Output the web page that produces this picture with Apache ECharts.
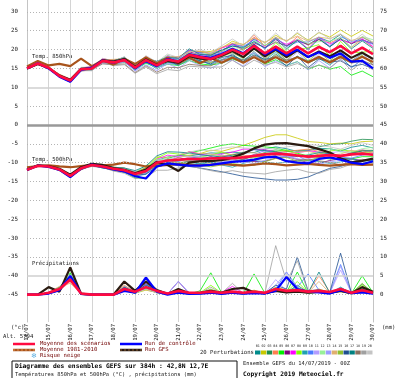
<!DOCTYPE html>
<html><head><meta charset="utf-8">
<script src="https://cdn.jsdelivr.net/npm/echarts@6/dist/echarts.min.js"></script>
<style>html,body{margin:0;padding:0;background:#fff}#c{width:400px;height:378px}</style>
</head><body><div id="c"></div>
<script>
// ---------- DATA ----------
const days = ['14/07','15/07','16/07','17/07','18/07','19/07','20/07','21/07','22/07','23/07','24/07','25/07','26/07','27/07','28/07','29/07','30/07'];
const leftTicks = [30,25,20,15,10,5,0,-5,-10,-15,-20,-25,-30,-35,-40,-45];
const rightTicks = [75,70,65,60,55,50,45,40,35,30,25,20,15,10,5,0];
const pertNames = ['01','02','03','04','05','06','07','08','09','10','11','12','13','14','15','16','17','18','19','20'];
const pertColors = ['#008b8b','#c8c800','#1f8f4f','#ff7f50','#00ee00','#800080','#ff00ff','#80ff00','#20a0b0','#4a7aff','#b49cff','#98f098','#9c9cff','#e0b070','#8fbf30','#1e4f8f','#008080','#8b7060','#a0a0a0','#c4c4c4'];

// 850 hPa (°C), 12-hourly from 14/07 00Z
const mean850 = [15.0,16.3,15.2,13.0,11.8,14.8,15.0,17.0,16.6,17.2,15.2,17.2,15.8,17.3,16.8,18.6,18.0,17.5,18.6,20.0,18.8,21.0,19.0,20.8,19.0,20.8,19.0,20.7,19.3,21.0,19.0,20.5,18.8];
const ctrl850 = [15.0,16.4,15.0,12.8,11.5,14.6,15.2,17.1,16.5,17.3,15.0,17.0,15.6,17.5,16.9,18.8,18.2,17.8,18.8,20.2,19.0,21.2,18.7,20.2,18.5,20.0,18.0,19.3,17.8,19.0,16.8,17.0,15.0];
const gfs850 = [15.0,16.2,15.1,13.1,12.0,14.9,15.1,17.2,16.8,17.5,15.4,17.4,15.9,17.0,16.5,18.3,17.6,17.4,18.4,19.6,18.0,20.3,18.2,20.0,18.0,19.8,18.0,19.5,18.2,19.8,17.8,19.2,17.5];
const clim850 = [15.5,17.0,15.8,16.2,15.6,17.6,15.6,17.2,16.0,17.6,16.2,17.9,16.4,17.8,16.3,17.9,16.4,17.8,16.5,17.9,16.5,18.0,16.5,18.0,16.6,18.0,16.6,18.1,16.6,18.1,16.7,18.1,16.7];
const pert850 = [
[15.0,16.5,15.3,13.0,11.6,14.9,15.3,17.4,16.9,17.7,15.6,17.8,16.6,18.3,17.8,19.8,19.3,19.0,19.8,21.0,20.3,22.8,21.0,23.0,21.0,22.6,21.2,23.2,22.1,24.0,21.5,23.3,21.8],
[15.1,16.3,15.4,13.3,11.9,14.8,15.2,17.5,17.2,17.6,16.0,17.7,16.8,18.1,18.0,19.6,19.5,19.5,20.4,22.2,21.3,23.2,21.8,23.8,22.2,24.3,22.5,24.5,23.3,25.2,23.5,25.1,23.6],
[14.9,16.4,15.2,13.2,12.1,14.6,15.0,16.7,16.6,17.4,14.8,17.0,15.3,16.5,16.2,17.6,16.8,16.7,17.1,18.8,16.8,19.5,16.5,18.8,16.8,18.0,16.5,17.7,16.7,18.5,17.0,18.9,17.6],
[15.0,16.2,15.4,13.1,11.7,15.0,15.1,17.3,17.1,17.8,15.5,18.0,16.4,18.2,18.0,19.5,19.4,19.1,20.5,21.5,21.0,23.8,21.0,23.2,20.8,23.4,21.2,22.6,21.8,23.0,20.6,22.7,20.6],
[15.1,16.3,15.1,12.8,11.5,14.7,14.8,16.6,16.3,16.6,14.7,16.4,15.2,16.1,15.8,17.1,16.2,15.9,16.4,17.5,16.6,18.0,16.2,17.3,15.8,16.8,14.8,15.9,14.8,15.5,13.2,14.3,12.8],
[15.0,16.6,15.3,13.4,12.0,15.1,15.5,17.2,17.2,17.5,15.9,17.6,16.7,17.8,17.9,19.4,18.6,18.7,19.5,21.6,20.0,21.8,20.5,22.0,21.0,22.4,21.4,22.7,20.8,22.8,21.6,22.6,21.6],
[15.2,16.4,15.2,12.9,11.9,15.2,15.2,17.6,17.0,17.4,15.7,18.1,16.2,18.3,17.5,19.9,19.0,18.0,20.4,21.4,19.8,23.2,20.6,22.6,21.4,22.7,20.2,23.3,21.5,22.5,21.8,22.9,20.8],
[14.8,16.3,15.0,13.3,12.0,14.5,14.9,17.1,16.4,17.7,15.2,17.5,16.0,17.0,17.2,19.2,17.5,18.4,18.9,19.6,20.0,21.5,18.7,21.8,19.4,20.0,20.5,21.3,18.3,22.2,19.2,19.3,19.6],
[15.0,16.1,15.2,12.7,11.4,14.6,14.6,16.8,16.1,16.9,14.5,16.7,14.9,16.7,15.8,17.4,17.1,16.0,17.4,18.2,17.3,19.0,17.2,19.3,16.8,18.2,17.0,17.7,15.9,18.2,15.2,17.3,15.2],
[15.1,16.4,15.5,13.0,12.0,14.9,15.3,17.4,16.8,17.9,15.7,17.5,16.8,18.0,17.3,20.0,19.1,18.3,19.2,21.4,20.8,22.6,20.1,23.3,20.8,22.0,22.0,23.3,20.9,23.4,22.2,22.5,21.4],
[14.9,16.2,15.0,12.9,11.8,14.5,14.8,16.5,16.4,16.8,14.4,16.9,15.2,16.2,16.3,17.7,16.6,16.8,17.0,19.0,18.2,19.2,17.8,20.0,17.0,19.3,16.6,18.8,18.1,18.4,16.8,19.1,16.0],
[15.0,16.5,15.6,13.2,11.7,15.2,15.2,17.1,16.9,17.8,15.4,17.3,16.3,18.5,17.4,18.9,18.8,18.9,19.6,20.4,20.4,22.2,21.2,22.1,19.8,22.8,21.6,22.1,22.3,23.2,20.6,23.5,22.6],
[15.1,16.1,15.1,12.6,11.3,14.4,14.7,16.4,15.9,16.7,14.3,16.0,14.4,16.3,15.0,17.1,15.8,15.0,16.6,17.2,15.6,18.0,15.5,17.0,15.8,16.8,14.6,17.1,15.1,17.5,15.2,17.3,15.8],
[15.0,16.3,15.3,13.5,12.2,14.9,15.0,17.3,17.4,17.6,15.8,18.2,16.5,17.8,18.1,19.5,19.6,18.7,20.6,21.7,21.4,23.0,22.0,23.2,22.4,23.6,22.2,23.3,22.9,24.0,22.4,23.3,22.0],
[14.9,16.4,15.1,13.0,11.9,14.7,15.1,16.9,16.7,17.0,15.4,16.8,16.1,16.8,17.0,17.9,17.8,16.5,18.1,19.2,17.6,20.4,17.5,19.7,17.2,19.9,17.0,19.3,17.0,19.4,16.5,18.5,16.0],
[15.0,16.2,15.3,12.8,11.9,15.0,14.9,16.7,16.8,17.1,15.5,16.6,15.9,16.9,16.0,18.3,17.0,16.2,17.9,18.5,16.8,18.6,17.4,18.0,15.6,18.3,15.2,17.5,16.7,17.0,15.5,16.1,14.9],
[15.1,16.5,15.2,13.1,11.6,14.7,15.4,17.2,17.0,18.0,15.5,17.7,16.9,17.9,17.7,20.2,18.7,18.5,19.9,20.9,20.6,22.1,20.4,22.8,20.2,22.4,20.0,22.9,20.7,22.9,20.2,22.3,20.3],
[14.8,16.0,15.1,12.8,11.4,14.3,14.7,16.2,16.0,16.2,13.9,15.7,14.0,15.3,15.2,16.1,15.8,15.7,17.2,17.8,17.2,18.4,17.0,18.4,17.2,18.0,16.8,17.7,16.9,17.8,16.4,17.0,16.0],
[15.0,16.2,14.9,12.8,12.0,14.4,14.4,16.6,15.7,16.0,13.7,15.4,13.6,14.7,14.4,15.6,15.4,15.3,15.4,17.2,15.4,17.2,15.9,16.6,15.4,16.3,15.0,15.9,15.1,17.4,14.5,16.7,14.6],
[15.2,16.6,15.4,13.1,12.1,15.3,15.4,17.7,16.8,18.1,15.8,18.4,16.7,18.8,17.9,19.4,20.0,19.1,21.0,22.8,21.0,24.2,21.6,24.4,22.0,24.6,22.2,24.7,22.8,24.2,21.8,24.1,21.8]
];

// 500 hPa (°C)
const mean500 = [-11.9,-10.8,-11.0,-11.8,-13.5,-11.5,-10.6,-11.0,-11.6,-12.0,-13.0,-12.2,-10.0,-9.4,-9.2,-9.0,-9.0,-8.9,-8.8,-8.8,-8.6,-8.2,-7.8,-7.6,-7.8,-8.1,-8.4,-8.2,-8.0,-8.2,-7.8,-7.6,-7.9];
const ctrl500 = [-11.9,-10.8,-11.1,-11.9,-13.8,-11.6,-10.5,-11.1,-11.8,-12.3,-13.6,-14.2,-11.0,-10.2,-10.5,-10.8,-10.8,-10.6,-10.2,-9.8,-9.6,-9.2,-8.6,-8.4,-9.6,-10.0,-10.2,-9.0,-8.6,-9.2,-10.0,-10.4,-9.6];
const gfs500 = [-11.9,-10.7,-10.9,-11.6,-13.2,-11.2,-10.3,-10.6,-11.4,-11.9,-12.8,-11.8,-9.8,-10.6,-12.2,-10.0,-9.6,-9.6,-9.3,-8.6,-7.6,-6.2,-5.2,-4.9,-4.8,-5.2,-5.6,-6.4,-7.3,-8.8,-9.9,-9.5,-8.9];
const clim500 = [-11.2,-10.9,-10.7,-11.0,-11.2,-10.9,-10.6,-10.7,-10.5,-10.0,-10.4,-11.0,-10.8,-10.6,-10.4,-10.6,-10.7,-10.5,-10.3,-10.6,-10.8,-10.5,-10.2,-10.4,-10.7,-10.5,-10.3,-10.6,-10.8,-10.6,-10.4,-10.6,-10.5];
const pert500 = [
[-11.9,-10.7,-11.0,-12.0,-13.4,-11.3,-10.6,-10.7,-11.4,-11.6,-12.5,-11.4,-9.4,-8.5,-8.1,-8.2,-7.8,-7.4,-7.5,-7.2,-7.4,-7.3,-6.4,-5.8,-6.3,-7.0,-6.8,-6.2,-6.3,-6.9,-5.9,-5.4,-6.1],
[-11.8,-10.8,-10.8,-11.7,-13.2,-11.4,-10.4,-11.0,-11.2,-11.4,-12.7,-11.2,-8.5,-8.6,-8.0,-7.1,-7.6,-6.7,-7.0,-6.2,-5.4,-4.4,-3.3,-2.6,-2.6,-3.5,-4.4,-4.6,-5.0,-4.8,-5.0,-4.4,-4.3],
[-12.0,-10.7,-11.2,-11.8,-13.3,-11.6,-10.5,-11.2,-11.6,-12.3,-12.9,-12.7,-10.8,-9.8,-10.2,-9.6,-10.2,-9.7,-10.3,-9.8,-9.1,-8.2,-7.3,-6.6,-7.0,-6.8,-6.6,-5.8,-5.2,-5.0,-4.3,-3.8,-3.9],
[-11.9,-10.9,-10.9,-11.6,-13.7,-11.5,-10.4,-10.9,-11.9,-12.0,-12.6,-12.0,-10.4,-10.2,-9.5,-8.5,-8.8,-9.5,-8.4,-7.8,-8.0,-8.4,-8.6,-7.3,-7.0,-6.7,-6.4,-7.0,-7.5,-8.5,-7.6,-6.8,-7.5],
[-11.8,-10.6,-11.0,-11.9,-13.8,-11.7,-10.7,-11.4,-11.8,-12.5,-14.0,-14.2,-10.5,-8.9,-8.0,-7.4,-6.8,-6.1,-5.4,-5.0,-5.4,-5.6,-5.8,-6.1,-6.8,-7.5,-8.2,-8.6,-9.0,-8.8,-9.0,-8.4,-8.4],
[-11.9,-10.8,-11.1,-11.7,-13.3,-11.2,-10.8,-10.8,-11.5,-12.1,-13.2,-11.8,-9.8,-9.6,-8.6,-9.4,-9.1,-8.4,-9.4,-9.0,-9.6,-9.7,-9.6,-8.8,-8.4,-9.1,-10.0,-10.2,-9.4,-9.0,-9.0,-9.4,-9.3],
[-11.7,-10.9,-10.9,-11.9,-13.1,-11.4,-10.3,-11.1,-11.3,-11.9,-12.4,-12.5,-9.1,-8.0,-8.4,-7.1,-7.7,-8.2,-7.7,-7.2,-6.4,-6.4,-6.6,-7.0,-7.6,-7.3,-6.9,-7.1,-7.6,-8.4,-7.3,-6.6,-7.2],
[-12.0,-10.7,-10.9,-11.5,-13.6,-11.3,-10.2,-10.9,-11.7,-11.7,-13.3,-11.6,-8.8,-7.4,-7.7,-8.1,-8.6,-7.9,-7.2,-8.0,-8.4,-8.7,-8.0,-7.0,-6.6,-7.7,-8.7,-7.7,-6.9,-6.6,-6.9,-7.3,-7.1],
[-11.9,-11.0,-10.9,-12.1,-13.4,-11.7,-10.9,-11.0,-12.0,-12.2,-13.5,-13.1,-10.3,-10.0,-10.4,-9.8,-10.4,-9.9,-10.6,-11.2,-10.2,-9.4,-9.8,-10.2,-9.8,-9.5,-9.4,-9.7,-10.2,-9.8,-9.0,-9.6,-9.4],
[-11.8,-10.7,-11.1,-11.8,-13.6,-11.4,-10.5,-11.3,-11.3,-11.5,-12.8,-12.6,-10.2,-9.1,-9.7,-8.8,-8.4,-9.1,-8.0,-8.5,-9.2,-7.8,-6.8,-7.8,-8.6,-8.1,-9.6,-8.7,-7.6,-8.5,-8.8,-8.0,-7.7],
[-12.0,-10.8,-10.8,-11.6,-13.2,-11.5,-10.7,-10.8,-11.8,-12.4,-13.0,-11.9,-9.5,-9.2,-8.3,-8.5,-8.2,-7.6,-8.1,-8.6,-7.6,-6.6,-7.0,-7.4,-8.2,-9.1,-9.0,-8.1,-7.4,-7.0,-7.3,-7.8,-7.6],
[-11.9,-10.6,-11.1,-11.7,-13.1,-11.3,-10.6,-10.6,-11.3,-11.8,-12.5,-10.7,-9.2,-9.0,-9.2,-9.4,-8.7,-8.0,-8.3,-9.1,-9.5,-8.6,-7.5,-6.7,-7.4,-8.3,-7.8,-7.0,-6.2,-7.2,-7.2,-6.3,-5.9],
[-11.8,-10.9,-11.0,-12.0,-13.9,-11.6,-10.8,-11.3,-11.7,-12.4,-13.8,-12.7,-11.0,-10.8,-10.1,-10.6,-11.0,-10.4,-9.8,-9.4,-9.8,-10.2,-9.4,-8.5,-8.2,-8.9,-9.8,-10.4,-9.8,-9.4,-9.8,-10.1,-9.8],
[-11.9,-10.7,-10.8,-11.8,-13.4,-11.6,-10.4,-10.9,-11.6,-11.8,-12.6,-11.5,-9.6,-9.4,-8.7,-8.0,-7.5,-7.7,-8.2,-7.8,-7.2,-7.4,-7.7,-8.1,-7.6,-7.2,-7.0,-7.6,-8.0,-7.7,-6.7,-7.2,-8.1],
[-12.0,-10.8,-11.1,-11.7,-13.7,-11.4,-10.6,-10.9,-11.4,-12.1,-12.7,-12.4,-10.6,-10.4,-9.9,-10.2,-10.7,-11.1,-10.6,-10.2,-10.6,-10.7,-9.7,-8.9,-8.6,-9.6,-9.4,-8.6,-7.7,-8.4,-7.4,-6.7,-6.7],
[-11.9,-10.9,-11.0,-11.9,-13.5,-11.8,-10.8,-11.4,-11.9,-12.6,-13.4,-13.0,-11.2,-10.4,-10.8,-11.0,-11.4,-11.9,-12.4,-13.0,-13.6,-14.0,-14.3,-14.6,-14.6,-14.4,-13.8,-12.6,-11.5,-11.0,-10.0,-10.2,-9.9],
[-11.8,-10.7,-11.0,-11.6,-13.3,-11.4,-10.4,-10.7,-11.2,-11.4,-12.1,-10.9,-8.2,-7.1,-7.2,-7.4,-7.9,-8.2,-8.5,-8.0,-7.3,-6.5,-6.8,-7.1,-7.8,-8.4,-8.0,-7.3,-7.6,-8.4,-7.5,-6.9,-6.8],
[-11.9,-10.8,-10.9,-11.9,-13.8,-11.9,-10.7,-11.2,-12.1,-12.3,-13.6,-12.4,-10.9,-9.9,-9.4,-9.7,-9.3,-8.7,-9.2,-9.7,-9.1,-8.2,-8.4,-8.8,-9.6,-9.3,-9.1,-9.5,-9.9,-10.6,-9.8,-9.1,-9.8],
[-11.8,-11.0,-11.1,-12.1,-14.0,-11.7,-11.0,-11.3,-12.2,-12.8,-14.2,-13.8,-12.0,-12.0,-11.4,-10.8,-11.5,-12.1,-12.6,-12.1,-12.6,-12.8,-13.0,-12.4,-12.0,-11.7,-12.5,-12.8,-11.8,-11.4,-10.4,-10.6,-10.3],
[-12.0,-10.6,-10.9,-11.8,-13.2,-11.3,-10.5,-11.0,-11.4,-11.6,-12.9,-11.7,-9.7,-8.6,-7.9,-7.2,-6.6,-6.9,-6.2,-5.8,-6.1,-6.2,-6.2,-6.4,-5.8,-5.5,-5.2,-5.4,-5.8,-6.4,-5.4,-4.7,-5.4]
];

// Precipitation (mm)
const meanPr = [0,0,0.5,1.5,4.0,0.3,0,0,0,1.5,0.8,2.0,1.0,0.3,1.0,0.5,0.5,0.8,0.5,0.8,0.5,0.8,0.5,1.5,1.0,1.2,0.8,1.0,0.7,1.5,0.5,1.2,0.5];
const ctrlPr = [0,0,0.3,1.2,5.0,0.2,0,0,0,1.0,0.5,4.5,0.8,0,0.5,0.2,0.3,0.5,0.2,0.5,0.3,0.4,0.3,1.0,4.7,1.5,0.8,0.6,0.3,1.2,0.4,0.6,0.3];
const gfsPr = [0,0,2.0,0.8,7.2,0.2,0,0,0,3.5,1.0,3.5,1.2,0.2,1.5,0.4,0.5,1.0,0.5,1.5,1.8,0.6,0.4,1.0,0.6,0.8,0.5,0.8,0.5,1.0,0.4,2.0,0.8];
const pertPr = [
[0,0,0.5,1.8,5.5,0.3,0,0,0,1.5,1.0,2.0,0.8,0.2,0.8,0.3,0.4,0.6,0.3,0.5,0.3,1.0,0.4,1.2,0.8,1.6,0.5,0.8,0.4,1.8,0.6,1.5,0.4],
[0,0,0.3,1.2,4.5,0.4,0,0,0,1.0,0.4,1.2,0.6,0.3,0.6,0.2,0.3,0.5,0.2,0.4,0.2,0.6,0.2,2.0,1.2,0.8,0.4,1.5,0.6,0.8,0.2,0.6,0.3],
[0,0,0.6,2.0,5.0,0.5,0,0,0,2.0,0.8,2.5,1.0,0.1,0.5,0.2,0.6,1.2,0.4,0.6,0.4,0.8,0.3,1.0,0.6,2.5,0.6,1.2,0.5,1.2,0.4,2.8,0.6],
[0,0,0.4,1.0,3.5,0.2,0,0,0,2.5,0.6,1.5,0.5,0.2,1.2,0.3,0.3,0.4,0.2,0.4,0.2,0.5,0.3,0.8,1.0,1.5,0.6,5.0,0.8,1.0,0.3,0.8,0.3],
[0,0,0.5,1.5,5.8,0.3,0,0,0,1.2,0.5,1.5,0.6,0.1,0.6,0.2,1.0,5.8,0.5,0.6,0.3,5.5,0.4,1.2,0.6,6.0,0.4,0.6,0.3,1.0,0.3,5.0,0.5],
[0,0,0.3,1.3,4.2,0.2,0,0,0,1.8,0.7,3.0,0.8,0.2,3.5,0.3,0.2,0.4,0.2,0.5,0.2,0.6,0.2,1.0,0.5,1.0,0.4,0.6,0.3,0.9,0.2,0.6,0.2],
[0,0,0.4,1.4,4.8,0.3,0,0,0,1.3,0.5,1.8,0.7,0.2,0.9,0.3,0.3,0.5,0.6,2.2,0.4,0.5,0.3,1.0,0.6,1.2,0.5,0.7,0.4,1.4,0.3,0.8,0.3],
[0,0,0.5,1.6,5.2,0.3,0,0,0,1.6,0.6,2.2,0.9,0.2,0.7,0.2,0.5,2.5,0.4,0.6,0.3,1.2,0.3,1.5,0.7,3.5,0.5,0.9,0.4,1.5,0.3,2.5,0.4],
[0,0,0.3,1.1,4.0,0.2,0,0,0,1.2,0.4,1.6,0.5,0.1,0.5,0.2,0.3,0.5,0.2,0.4,0.2,0.5,0.2,1.8,0.9,2.0,0.5,1.0,0.4,2.0,0.3,1.0,0.3],
[0,0,0.4,1.5,4.6,0.3,0,0,0,2.2,0.9,2.8,1.1,0.2,1.0,0.3,0.4,0.7,0.3,0.7,0.3,0.8,0.4,1.5,6.0,2.0,5.5,1.2,0.5,8.0,0.5,1.0,0.4],
[0,0,0.3,1.0,3.8,0.2,0,0,0,1.4,0.5,2.4,0.8,0.2,3.5,0.4,0.3,0.5,0.3,1.5,0.3,0.6,0.3,4.0,1.0,1.5,0.6,0.9,0.4,6.5,0.5,0.8,0.3],
[0,0,0.5,1.7,5.4,0.4,0,0,0,1.1,0.5,1.4,0.6,0.1,0.6,0.2,0.4,0.6,0.3,0.5,0.2,0.9,0.3,1.4,0.8,1.8,0.5,0.8,0.3,1.1,0.3,1.8,0.4],
[0,0,0.4,1.2,4.4,0.3,0,0,0,1.7,0.7,5.0,1.0,0.2,3.5,0.5,0.3,0.5,0.2,0.6,0.3,0.7,0.3,2.5,6.0,1.5,0.7,1.1,0.5,7.5,0.6,0.9,0.4],
[0,0,0.6,2.2,3.0,0.4,0,0,0,2.4,0.8,1.3,0.6,0.2,0.8,0.3,0.3,0.5,0.2,0.5,0.2,0.6,0.3,1.2,0.7,1.0,0.5,3.5,0.4,0.9,0.3,0.8,0.3],
[0,0,0.4,1.3,4.9,0.3,0,0,0,1.5,0.6,1.9,0.7,0.2,0.7,0.3,0.4,1.5,0.3,0.6,0.3,0.8,0.3,1.2,0.6,1.4,0.4,0.7,0.3,1.2,0.3,3.0,0.4],
[0,0,0.3,1.1,4.3,0.2,0,0,0,1.9,0.6,2.6,0.9,0.2,0.9,0.3,0.3,0.6,0.3,0.6,0.2,0.7,0.4,2.5,1.5,10.0,1.0,1.3,0.6,11.0,0.5,0.9,0.4],
[0,0,0.5,1.4,4.7,0.3,0,0,0,1.4,0.5,2.1,0.8,0.2,0.8,0.2,0.4,0.6,0.3,0.5,0.2,0.7,0.3,1.4,0.7,1.5,0.5,6.0,0.4,1.3,0.3,1.6,0.3],
[0,0,0.4,1.2,4.1,0.2,0,0,0,1.3,0.4,1.7,0.6,0.2,0.6,0.2,0.3,0.5,0.2,0.4,0.2,0.6,0.2,1.1,0.6,1.2,0.4,0.8,0.3,1.1,0.3,1.2,0.3],
[0,0,0.4,1.3,4.5,0.3,0,0,0,1.5,0.5,1.9,0.7,0.2,0.7,0.3,0.4,2.0,0.4,3.0,0.3,0.7,0.4,13.0,3.5,9.0,0.8,1.2,0.5,1.5,0.4,1.1,0.4],
[0,0,0.3,1.0,3.9,0.2,0,0,0,1.2,0.4,1.5,0.5,0.2,0.6,0.2,0.3,0.5,0.2,0.4,0.2,0.5,0.3,1.0,0.5,1.0,0.4,0.7,0.3,0.9,0.3,0.8,0.3]
];

// ---------- CHART ----------
const MONO = 'DejaVu Sans Mono';
const cats = [];
days.forEach((d, i) => { cats.push(d); if (i < days.length - 1) cats.push(d + ' 12'); });

const chart = echarts.init(document.getElementById('c'), null, {renderer: 'canvas', width: 400, height: 378});

function ln(name, data, color, width, yIdx, z) {
  return {name, type: 'line', data, yAxisIndex: yIdx || 0, symbol: 'none', showSymbol: false,
    lineStyle: {color, width}, itemStyle: {color}, z: z || 2, silent: true, animation: false};
}
const series = [];
// grid lines
const dotted = {color: '#b4b4b4', type: [1, 2], width: 1};
const solid = {color: '#cfcfcf', type: 'solid', width: 1.5};
const thick = {color: '#999', type: 'solid', width: 2.5};
series.push({type: 'line', data: cats.map(() => null), z: 1, silent: true, animation: false,
  markLine: {silent: true, symbol: 'none', animation: false, label: {show: false},
    data: leftTicks.map(v => ({yAxis: v, lineStyle: v === 0 ? thick : (v === 10 || v === -40 ? solid : dotted)}))}});
for (let k = 0; k < 20; k++) {
  series.push(ln('p850' + k, pert850[k], pertColors[k], 0.8, 0, 3));
  series.push(ln('p500' + k, pert500[k], pertColors[k], 0.8, 0, 3));
  series.push(ln('ppr' + k, pertPr[k], pertColors[k], 0.8, 1, 3));
}
series.push(ln('clim850', clim850, '#a8541c', 2.2, 0, 4));
series.push(ln('clim500', clim500, '#a8541c', 2.2, 0, 4));
series.push(ln('gfs850', gfs850, '#2a1a10', 2.2, 0, 5));
series.push(ln('gfs500', gfs500, '#2a1a10', 2.2, 0, 5));
series.push(ln('gfsPr', gfsPr, '#2a1a10', 2.2, 1, 5));
series.push(ln('ctrl850', ctrl850, '#0000ff', 2.2, 0, 6));
series.push(ln('ctrl500', ctrl500, '#0000ff', 2.2, 0, 6));
series.push(ln('ctrlPr', ctrlPr, '#0000ff', 2.2, 1, 6));
series.push(ln('mean850', mean850, '#ff0a40', 2.6, 0, 7));
series.push(ln('mean500', mean500, '#ff0a40', 2.6, 0, 7));
series.push(ln('meanPr', meanPr, '#ff0a40', 2.6, 1, 7));

const txt = (x, y, s, opt) => Object.assign({type: 'text', x, y, silent: true,
  style: Object.assign({text: s, fontFamily: MONO, fontSize: 5.6, fill: '#222', verticalAlign: 'middle'}, opt || {})});
const hline = (x1, x2, y, stroke, w, dash) => ({type: 'line', silent: true,
  shape: {x1, y1: y, x2, y2: y}, style: {stroke, lineWidth: w, lineDash: dash || null}});

const graphics = [
  txt(32, 57, 'Temp. 850hPa'),
  txt(32, 160, 'Temp. 500hPa'),
  txt(32, 264, 'Précipitations'),
  txt(11, 328, '(°c)'),
  txt(3, 337, 'Alt. 5794'),
  txt(382, 328, '(mm)'),
  hline(13, 35, 344, '#ff0a40', 2.5),
  txt(40, 344, 'Moyenne des scénarios', {fill: '#700000'}),
  hline(13, 35, 350, '#a8541c', 2.5),
  hline(13, 35, 350, '#f0a060', 0.8, [2, 2]),
  txt(40, 350, 'Moyenne 1981-2010', {fill: '#700000'}),
  txt(31, 356, '❄', {fill: '#5aaee0', fontFamily: 'DejaVu Sans', fontSize: 7}),
  txt(40, 356, 'Risque neige', {fill: '#700000'}),
  hline(120, 142, 344, '#0000ff', 2.5),
  txt(145, 344, 'Run de contrôle', {fill: '#700000'}),
  hline(120, 142, 350, '#2a1a10', 2.5),
  hline(120, 142, 350, '#a07040', 0.8, [2, 2]),
  txt(145, 350, 'Run GFS', {fill: '#700000'}),
  txt(200, 353, '20 Perturbations'),
  {type: 'rect', silent: true, shape: {x: 12, y: 361, width: 225, height: 22},
    style: {fill: 'none', stroke: '#111', lineWidth: 1}},
  txt(15, 366.5, 'Diagramme des ensembles GEFS sur 384h : 42,8N 12,7E', {fontWeight: 'bold', fontSize: 6.3, fill: '#000'}),
  txt(15, 375, 'Températures 850hPa et 500hPa (°C) , précipitations (mm)', {fontSize: 5.4}),
  txt(243, 364, 'Ensemble GEFS du 14/07/2019 - 00Z', {fontSize: 5.4}),
  txt(243, 374, 'Copyright 2019 Meteociel.fr', {fontWeight: 'bold', fontSize: 6.2, fill: '#000'})
];
pertColors.forEach((c, k) => {
  graphics.push({type: 'rect', silent: true, shape: {x: 255 + k * 5.9, y: 350.5, width: 5.4, height: 4}, style: {fill: c}});
  graphics.push(txt(255 + k * 5.9 + 2.7, 346.5, pertNames[k], {fontSize: 3.4, textAlign: 'center'}));
});

chart.setOption({
  animation: false,
  backgroundColor: '#fff',
  grid: {left: 27, right: 27, top: 0, bottom: 56, containLabel: false},
  xAxis: {type: 'category', data: cats, boundaryGap: false,
    axisLine: {show: false}, axisTick: {show: false},
    axisLabel: {interval: 1, rotate: 90, margin: 2, fontFamily: MONO, fontSize: 5.6, color: '#222',
      formatter: v => v.slice(0, 5)},
    splitLine: {show: true, interval: 1, lineStyle: {color: '#d4d4d4', width: 1}}},
  yAxis: [
    {type: 'value', min: -52.25, max: 33.15, position: 'left',
      axisLine: {show: true, lineStyle: {color: '#c4c4c4'}}, axisTick: {show: false}, splitLine: {show: false},
      axisLabel: {customValues: leftTicks, margin: 9, fontFamily: MONO, fontSize: 5.8, color: '#222'}},
    {type: 'value', min: -7.25, max: 78.15, position: 'right',
      axisLine: {show: true, lineStyle: {color: '#c4c4c4'}}, axisTick: {show: false}, splitLine: {show: false},
      axisLabel: {customValues: rightTicks, margin: 7, fontFamily: MONO, fontSize: 5.8, color: '#222'}}
  ],
  series,
  graphic: graphics
});
</script></body></html>
